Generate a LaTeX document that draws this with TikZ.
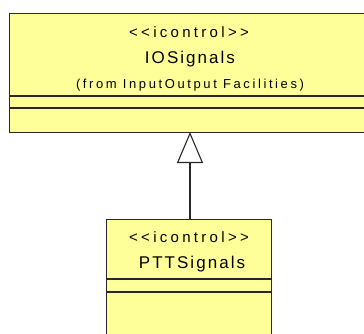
\documentclass[tikz,border=0pt]{standalone}
\usepackage{fontspec}
\setmainfont{Liberation Sans}
\newfontfamily\stereofont[LetterSpace=22]{Liberation Sans}
\newfontfamily\namefont[LetterSpace=12]{Liberation Sans}
\newfontfamily\pkgfont[LetterSpace=20]{Liberation Sans}
\usetikzlibrary{arrows.meta}
\definecolor{classfill}{RGB}{255,255,153}
\definecolor{classline}{RGB}{40,40,40}
\tikzset{
  classbox/.style={draw=classline, fill=classfill, line width=1.3pt, inner sep=0pt, anchor=north west},
  compartment/.style={draw=classline, line width=1.1pt},
  stereotype/.style={anchor=base, inner sep=0pt, text=black, font=\stereofont\fontsize{15}{17}\selectfont},
  classname/.style={anchor=base, inner sep=0pt, text=black, font=\namefont\fontsize{17}{19}\selectfont},
  pkgnote/.style={anchor=base, inner sep=0pt, text=black, font=\pkgfont\fontsize{13}{15}\selectfont},
  generalization/.style={draw=classline, line width=1.1pt,
    -{Triangle[open, length=31pt, width=26pt, fill=white]}}
}
\begin{document}
\begin{tikzpicture}[x=1pt, y=-1pt]
  \useasboundingbox (0,0) rectangle (364,333);
  \fill[white] (0,0) rectangle (364,333);

  % superclass IOSignals
  \node[classbox, minimum width=370pt, minimum height=119pt] (io) at (9,13) {};
  \node[stereotype] (iost) at (189,37) {<<icontrol>>};
  \node[classname] (ioname) at (190,63) {IOSignals};
  \node[pkgnote] (iopkg) at (190,88) {(from InputOutput Facilities)};
  \draw[compartment] (io.west |- 0,96) -- (io.east |- 0,96);
  \draw[compartment] (io.west |- 0,108) -- (io.east |- 0,108);

  % subclass PTTSignals
  \node[classbox, minimum width=165pt, minimum height=125pt] (ptt) at (106,219) {};
  \node[stereotype] (pttst) at (189,242) {<<icontrol>>};
  \node[classname] (pttname) at (192,268) {PTTSignals};
  \draw[compartment] (ptt.west |- 0,279) -- (ptt.east |- 0,279);
  \draw[compartment] (ptt.west |- 0,292) -- (ptt.east |- 0,292);

  % generalization arrow
  \coordinate (pttTop) at (190,219);
  \coordinate (ioBottom) at (190,132);
  \draw[generalization] (pttTop) -- (ioBottom);
\end{tikzpicture}
\end{document}
